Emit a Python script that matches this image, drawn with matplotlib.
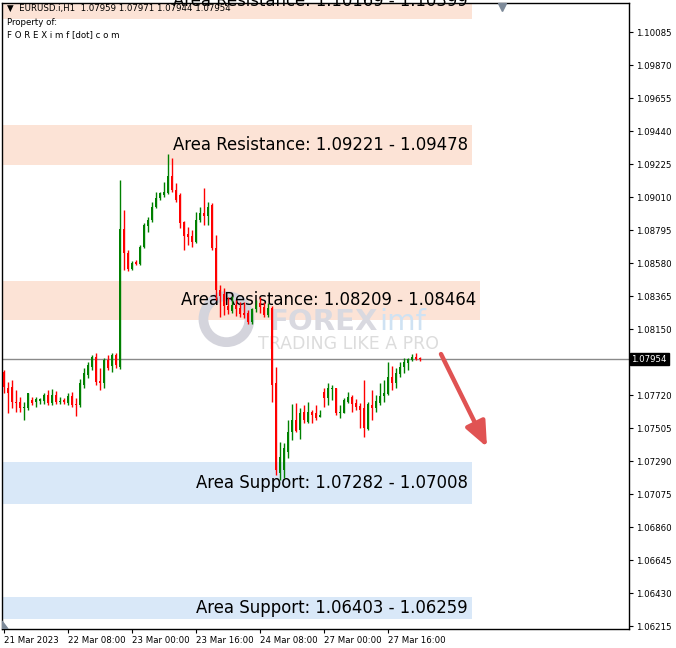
import matplotlib
matplotlib.use("Agg")
import matplotlib.pyplot as plt
import matplotlib.transforms as mtransforms
from matplotlib.patches import Polygon
import numpy as np

# EURUSD H1 bars, 21 Mar 16:00 .. 28 Mar 00:00 (weekend skipped)
opens = [1.07870, 1.07766, 1.07772, 1.07674, 1.07674, 1.07635, 1.07635, 1.07687, 1.07674, 1.07681,
         1.07681, 1.07720, 1.07667, 1.07720, 1.07674, 1.07687, 1.07667, 1.07714, 1.07661, 1.07654,
         1.07785, 1.07850, 1.07902, 1.07967, 1.07811, 1.07798, 1.07948, 1.07909, 1.07980, 1.07902,
         1.08801, 1.08645, 1.08541, 1.08587, 1.08574, 1.08684, 1.08821, 1.08860, 1.08944, 1.09004,
         1.09023, 1.09036, 1.09147, 1.09056, 1.09023, 1.08847, 1.08769, 1.08756, 1.08717, 1.08860,
         1.08905, 1.08886, 1.08958, 1.08678, 1.08404, 1.08378, 1.08300, 1.08267, 1.08306, 1.08287,
         1.08254, 1.08254, 1.08196, 1.08280, 1.08319, 1.08293, 1.08241, 1.08287, 1.07798, 1.07212,
         1.07231, 1.07349, 1.07479, 1.07557, 1.07492, 1.07609, 1.07544, 1.07609, 1.07602, 1.07576,
         1.07740, 1.07700, 1.07759, 1.07766, 1.07602, 1.07602, 1.07674, 1.07707, 1.07667, 1.07648,
         1.07635, 1.07498, 1.07654, 1.07635, 1.07667, 1.07714, 1.07727, 1.07837, 1.07798, 1.07857,
         1.07902, 1.07928, 1.07948, 1.07967, 1.07959]
highs = [1.07883, 1.07805, 1.07818, 1.07753, 1.07707, 1.07674, 1.07733, 1.07707, 1.07707, 1.07700,
         1.07733, 1.07753, 1.07759, 1.07746, 1.07707, 1.07700, 1.07733, 1.07740, 1.07700, 1.07824,
         1.07896, 1.07935, 1.07980, 1.07993, 1.07896, 1.07961, 1.07980, 1.07993, 1.07993, 1.09121,
         1.08925, 1.08665, 1.08593, 1.08600, 1.08697, 1.08840, 1.08879, 1.08977, 1.09043, 1.09043,
         1.09108, 1.09290, 1.09264, 1.09101, 1.09036, 1.08854, 1.08815, 1.08795, 1.08912, 1.08944,
         1.09069, 1.08977, 1.08971, 1.08763, 1.08437, 1.08417, 1.08358, 1.08365, 1.08339, 1.08326,
         1.08326, 1.08274, 1.08287, 1.08339, 1.08358, 1.08326, 1.08319, 1.08300, 1.07902, 1.07414,
         1.07408, 1.07557, 1.07661, 1.07667, 1.07635, 1.07654, 1.07674, 1.07622, 1.07654, 1.07622,
         1.07766, 1.07798, 1.07785, 1.07766, 1.07654, 1.07700, 1.07740, 1.07720, 1.07694, 1.07667,
         1.07818, 1.07674, 1.07753, 1.07720, 1.07798, 1.07818, 1.07935, 1.07909, 1.07896, 1.07935,
         1.07961, 1.07961, 1.07987, 1.07993, 1.07971]
lows = [1.07733, 1.07602, 1.07635, 1.07609, 1.07609, 1.07557, 1.07622, 1.07654, 1.07641, 1.07661,
        1.07661, 1.07654, 1.07654, 1.07661, 1.07661, 1.07661, 1.07654, 1.07641, 1.07583, 1.07641,
        1.07766, 1.07831, 1.07883, 1.07785, 1.07753, 1.07766, 1.07883, 1.07870, 1.07896, 1.07889,
        1.08534, 1.08528, 1.08534, 1.08567, 1.08567, 1.08678, 1.08782, 1.08847, 1.08938, 1.08990,
        1.09010, 1.09030, 1.09043, 1.08977, 1.08808, 1.08665, 1.08697, 1.08684, 1.08710, 1.08847,
        1.08827, 1.08827, 1.08665, 1.08339, 1.08228, 1.08241, 1.08248, 1.08254, 1.08235, 1.08228,
        1.08222, 1.08183, 1.08183, 1.08261, 1.08254, 1.08228, 1.08228, 1.07674, 1.07199, 1.07166,
        1.07179, 1.07310, 1.07427, 1.07479, 1.07433, 1.07537, 1.07537, 1.07537, 1.07557, 1.07576,
        1.07641, 1.07654, 1.07687, 1.07589, 1.07570, 1.07602, 1.07667, 1.07609, 1.07622, 1.07505,
        1.07446, 1.07492, 1.07557, 1.07609, 1.07654, 1.07674, 1.07720, 1.07753, 1.07766, 1.07837,
        1.07863, 1.07883, 1.07941, 1.07948, 1.07944]
closes = [1.07772, 1.07733, 1.07674, 1.07667, 1.07635, 1.07641, 1.07733, 1.07667, 1.07694, 1.07694,
          1.07720, 1.07667, 1.07720, 1.07674, 1.07681, 1.07674, 1.07714, 1.07654, 1.07654, 1.07798,
          1.07863, 1.07915, 1.07967, 1.07805, 1.07798, 1.07948, 1.07896, 1.07980, 1.07915, 1.08801,
          1.08645, 1.08541, 1.08580, 1.08574, 1.08684, 1.08827, 1.08860, 1.08944, 1.09004, 1.09036,
          1.09043, 1.09147, 1.09056, 1.08990, 1.08840, 1.08756, 1.08749, 1.08717, 1.08860, 1.08905,
          1.08886, 1.08944, 1.08678, 1.08404, 1.08365, 1.08300, 1.08274, 1.08306, 1.08280, 1.08248,
          1.08241, 1.08196, 1.08280, 1.08306, 1.08293, 1.08241, 1.08287, 1.07785, 1.07231, 1.07316,
          1.07375, 1.07479, 1.07557, 1.07486, 1.07602, 1.07557, 1.07609, 1.07589, 1.07570, 1.07589,
          1.07700, 1.07766, 1.07766, 1.07602, 1.07609, 1.07687, 1.07707, 1.07661, 1.07641, 1.07622,
          1.07505, 1.07661, 1.07635, 1.07681, 1.07714, 1.07733, 1.07837, 1.07798, 1.07863, 1.07902,
          1.07935, 1.07954, 1.07967, 1.07954, 1.07954]

# support / resistance areas
zone_lo = [1.10169, 1.09221, 1.08209, 1.07008, 1.06259]
zone_hi = [1.10399, 1.09478, 1.08464, 1.07282, 1.06403]
zone_names = ["Area Resistance: 1.10169 - 1.10399",
              "Area Resistance: 1.09221 - 1.09478",
              "Area Resistance: 1.08209 - 1.08464",
              "Area Support: 1.07282 - 1.07008",
              "Area Support: 1.06403 - 1.06259"]
zone_kind = ["res", "res", "res", "sup", "sup"]
zone_end = [117, 117, 119, 117, 117]

price_ticks = [1.10085, 1.09870, 1.09655, 1.09440, 1.09225, 1.09010, 1.08795, 1.08580, 1.08365,
               1.08150, 1.07935, 1.07720, 1.07505, 1.07290, 1.07075, 1.06860, 1.06645, 1.06430,
               1.06215]
time_ticks = [0, 16, 32, 48, 64, 80, 96]
time_labels = ["21 Mar 2023", "22 Mar 08:00", "23 Mar 00:00", "23 Mar 16:00",
               "24 Mar 08:00", "27 Mar 00:00", "27 Mar 16:00"]

o = np.array(opens); h = np.array(highs); l = np.array(lows); c = np.array(closes)
x = np.arange(len(o))

fig = plt.figure(figsize=(6.76, 6.48), dpi=100)
ax = fig.add_axes([2/676, 19/648, 627/676, 626/648])
ax.set_xlim(-0.5, 156.25)
ax.set_ylim(1.06196, 1.10274)

zone_col = {"res": "#fce3d6", "sup": "#d9e8f8"}
for lo, hi, name, kind, end in zip(zone_lo, zone_hi, zone_names, zone_kind, zone_end):
    ax.fill_between([-1, end], lo, hi, color=zone_col[kind], lw=0, zorder=0)
    ax.text(end - 1, (lo + hi) / 2, name, ha="right", va="center", fontsize=11.9,
            color="black", zorder=2)

# watermark
wm = ax.transAxes
ax.scatter([0.358], [0.495], s=1100, facecolors="none", edgecolors="#d4d4dc", linewidths=7,
           transform=wm, zorder=1)
ax.text(0.599, 0.477, "FOREX", transform=wm, ha="right", va="baseline", fontsize=21,
        fontweight="bold", color="#d9d9e0", zorder=1)
ax.text(0.601, 0.477, "imf", transform=wm, ha="left", va="baseline", fontsize=21,
        color="#cfe2f3", zorder=1)
ax.text(0.5534, 0.455, "TRADING LIKE A PRO", transform=wm, ha="center", va="center",
        fontsize=12.5, color="#dcdcdc", zorder=1)

# bid line
ax.axhline(c[-1], color="#8a8a8a", lw=1, zorder=2.5)

# candles
cols = np.where(c >= o, "#008000", "#ff0000")
ax.vlines(x, l, h, colors=cols, lw=1, zorder=3)
ax.bar(x, np.maximum(np.abs(c - o), 0.00002), bottom=np.minimum(o, c), width=0.72,
       color=cols, lw=0, zorder=4)

# expected move
ax.annotate("", xy=(120.75, 1.07381), xytext=(109.25, 1.07987),
            arrowprops=dict(arrowstyle="-|>,head_length=0.75,head_width=0.32",
                            color="#e05353", lw=3.2, mutation_scale=20,
                            shrinkA=0, shrinkB=0, capstyle="round"), zorder=5)

# axes styling
for s in ax.spines.values():
    s.set_color("black")
    s.set_linewidth(1)
ax.yaxis.tick_right()
ax.set_yticks(price_ticks)
# the tick under the current-price box is hidden by it
ax.set_yticklabels(["" if abs(v - c[-1]) < 0.001 else f"{v:.5f}" for v in price_ticks])
ax.tick_params(axis="y", length=3, labelsize=6.2, pad=2, colors="black")
ax.set_xticks(time_ticks)
ax.set_xticklabels(time_labels)
for lbl in ax.get_xticklabels():
    lbl.set_ha("left")
ax.tick_params(axis="x", length=3, labelsize=6.2, pad=2)

bt = mtransforms.blended_transform_factory(ax.transAxes, ax.transData)
ax.text(1.004, c[-1], f"{c[-1]:.5f}", transform=bt, ha="left", va="center", fontsize=6.2,
        color="white", zorder=10, clip_on=False,
        bbox=dict(facecolor="black", edgecolor="black", boxstyle="square,pad=0.2"))

# header
ax.text(0.008, 0.992, f"\u25bc  EURUSD.i,H1  {o[-1]:.5f} {h[-1]:.5f} {l[-1]:.5f} {c[-1]:.5f}",
        transform=ax.transAxes, ha="left", va="center", fontsize=6.2, zorder=8)
ax.text(0.008, 0.9696, "Property of:", transform=ax.transAxes, ha="left", va="center",
        fontsize=6.2, zorder=8)
ax.text(0.008, 0.949, "F O R E X i m f [dot] c o m", transform=ax.transAxes, ha="left",
        va="center", fontsize=6.2, zorder=8)

# MT4 shift markers
ax.plot([0.797], [0.993], marker="v", ms=6, color="#7d8a99", transform=ax.transAxes,
        clip_on=False, zorder=9)
ax.add_patch(Polygon([(0, 0), (0.0096, 0), (0, 0.0128)], closed=True, color="#7d8a99",
                     transform=ax.transAxes, zorder=9))

fig.savefig("out.png", dpi=100)
